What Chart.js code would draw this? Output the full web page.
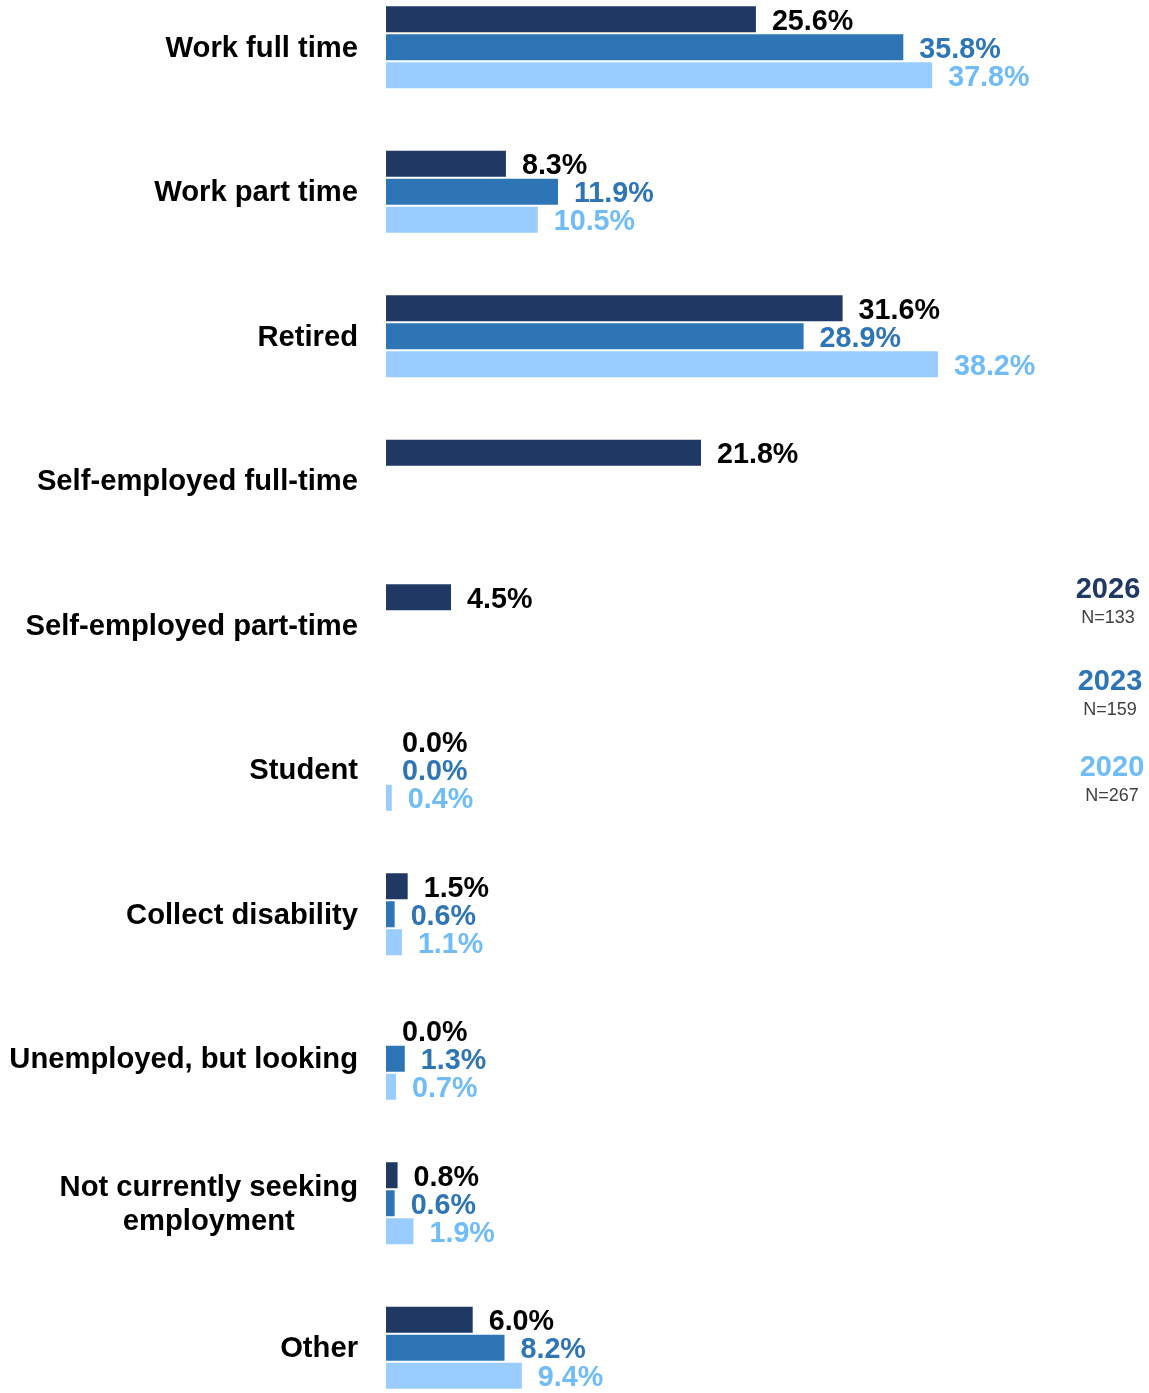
<!DOCTYPE html>
<html>
<head>
<meta charset="utf-8">
<script src="https://cdn.jsdelivr.net/npm/chart.js@4"></script>
<style>
  html, body { margin: 0; padding: 0; background: #fff; overflow: hidden; }
  body { width: 1149px; height: 1393px; position: relative; }
  #wrap { position: absolute; left: 0; top: -25px; width: 1149px; height: 1445px; }
</style>
</head>
<body>
<div id="wrap"><canvas id="chart"></canvas></div>
<script>
// Employment status by survey year (percent of respondents)
const categories = [
  'Work full time',
  'Work part time',
  'Retired',
  'Self-employed full-time',
  'Self-employed part-time',
  'Student',
  'Collect disability',
  'Unemployed, but looking',
  ['Not currently seeking', 'employment'],
  'Other'
];
const years = ['2026', '2023', '2020'];
const sampleSizes = ['N=133', 'N=159', 'N=267'];
const values2026 = [25.6, 8.3, 31.6, 21.8, 4.5, 0.0, 1.5, 0.0, 0.8, 6.0];
const values2023 = [35.8, 11.9, 28.9, null, null, 0.0, 0.6, 1.3, 0.6, 8.2];
const values2020 = [37.8, 10.5, 38.2, null, null, 0.4, 1.1, 0.7, 1.9, 9.4];

const barColors = ['#203864', '#2E75B6', '#99CCFF'];
const labelColors = ['#000000', '#2E75B6', '#6FBCF8'];
const yearColors = ['#203864', '#2E75B6', '#6FBCF8'];
const FONT = '"Liberation Sans", Arial, Helvetica, sans-serif';

// Value labels at the end of each bar
const valueLabels = {
  id: 'valueLabels',
  afterDatasetsDraw(chart) {
    const ctx = chart.ctx;
    ctx.save();
    ctx.font = 'bold 28.7px ' + FONT;
    ctx.textAlign = 'left';
    ctx.textBaseline = 'alphabetic';
    chart.data.datasets.forEach((ds, di) => {
      const meta = chart.getDatasetMeta(di);
      meta.data.forEach((bar, i) => {
        const v = ds.data[i];
        if (v === null || v === undefined) return;
        ctx.fillStyle = labelColors[di];
        ctx.fillText(v.toFixed(1) + '%', bar.x + 16, bar.y + 10.5);
      });
    });
    ctx.restore();
  }
};

// Category names, right-aligned block with centred lines
const categoryLabels = {
  id: 'categoryLabels',
  afterDraw(chart) {
    const ctx = chart.ctx;
    const yScale = chart.scales.y;
    const right = 358;
    const lineH = 34;
    ctx.save();
    ctx.font = 'bold 29.2px ' + FONT;
    ctx.fillStyle = '#000';
    ctx.textBaseline = 'alphabetic';
    ctx.textAlign = 'center';
    categories.forEach((label, i) => {
      const lines = Array.isArray(label) ? label : [label];
      const maxW = Math.max(...lines.map(l => ctx.measureText(l).width));
      const cx = right - maxW / 2;
      const cy = yScale.getPixelForValue(i);
      const y0 = cy - (lines.length - 1) * lineH / 2;
      lines.forEach((l, k) => ctx.fillText(l, cx, y0 + k * lineH + 9.5));
    });
    ctx.restore();
  }
};

// Year legend with sample sizes on the right
const yearLegend = {
  id: 'yearLegend',
  afterDraw(chart) {
    const ctx = chart.ctx;
    const offY = 25; // canvas sits 25px above the page top
    const centers = [1108, 1110, 1112];
    const baselines = [598, 690, 776];
    ctx.save();
    ctx.textAlign = 'center';
    ctx.textBaseline = 'alphabetic';
    years.forEach((yr, i) => {
      ctx.font = 'bold 29px ' + FONT;
      ctx.fillStyle = yearColors[i];
      ctx.fillText(yr, centers[i], baselines[i] + offY);
      ctx.font = '18px ' + FONT;
      ctx.fillStyle = '#404040';
      ctx.fillText(sampleSizes[i], centers[i], baselines[i] + 24.5 + offY);
    });
    ctx.restore();
  }
};

new Chart(document.getElementById('chart'), {
  type: 'bar',
  data: {
    labels: categories,
    datasets: [
      { label: years[0], data: values2026, backgroundColor: barColors[0] },
      { label: years[1], data: values2023, backgroundColor: barColors[1] },
      { label: years[2], data: values2020, backgroundColor: barColors[2] }
    ]
  },
  options: {
    indexAxis: 'y',
    responsive: true,
    maintainAspectRatio: false,
    animation: false,
    devicePixelRatio: 1,
    layout: { padding: { left: 386, right: 40.5, top: 0, bottom: 0 } },
    datasets: {
      bar: { categoryPercentage: 0.581, barPercentage: 0.93, borderWidth: 0 }
    },
    scales: {
      x: { display: false, min: 0, max: 50 },
      y: { display: false }
    },
    plugins: {
      legend: { display: false },
      tooltip: { enabled: false }
    }
  },
  plugins: [valueLabels, categoryLabels, yearLegend]
});
</script>
</body>
</html>
